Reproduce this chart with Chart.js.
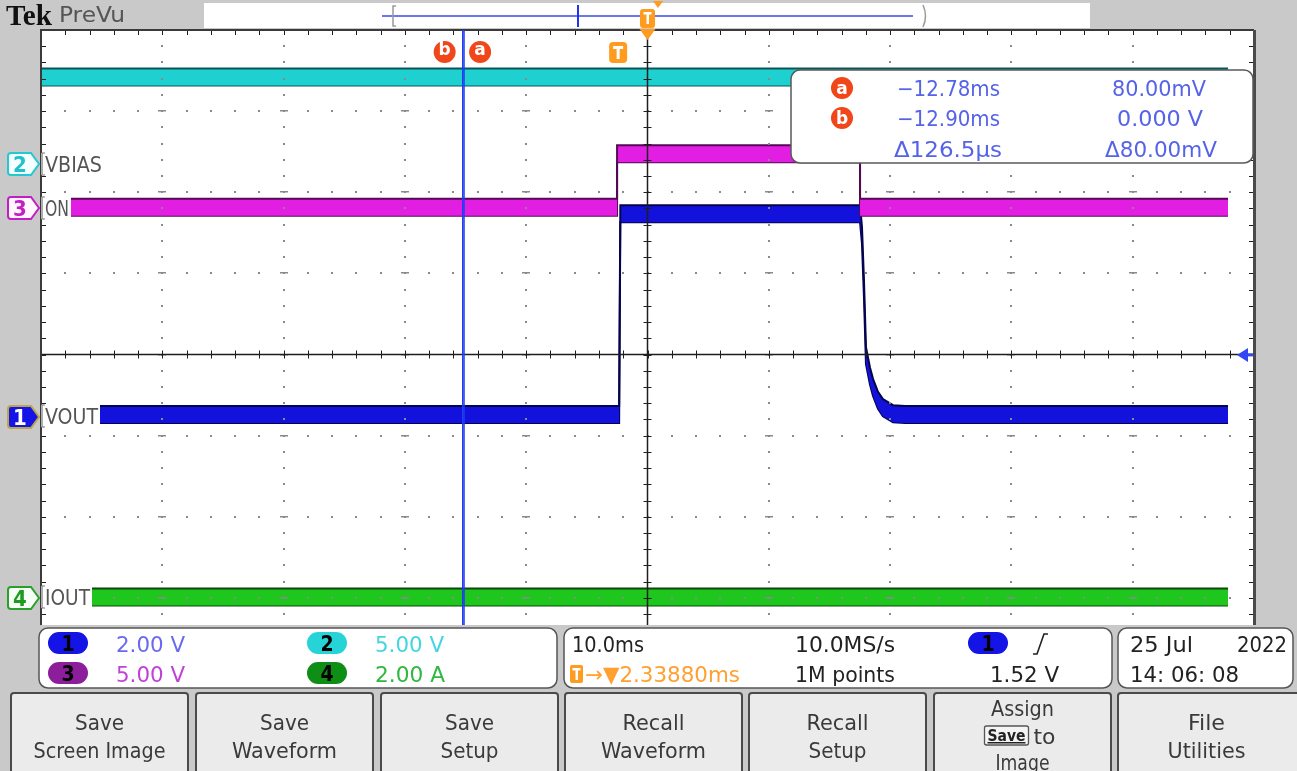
<!DOCTYPE html>
<html>
<head>
<meta charset="utf-8">
<title>Tek PreVu - VOUT / ON / VBIAS / IOUT</title>
<script src="https://cdn.jsdelivr.net/npm/chart.js@4.4.1/dist/chart.umd.min.js"></script>
<style>
  html, body { margin: 0; padding: 0; background: #c9c9c9; }
  #screen { position: relative; width: 1297px; height: 771px; overflow: hidden; background: #c9c9c9; }
  #scope { position: absolute; left: 0; top: 0; }
  #overlay { position: absolute; left: 0; top: 0; pointer-events: none;
    font-family: 'DejaVu Sans Condensed', 'Liberation Sans Narrow', 'DejaVu Sans', sans-serif; }
</style>
</head>
<body>
<div id="screen">
  <canvas id="scope" width="1297" height="771"></canvas>
  <svg id="overlay" width="1297" height="771" xmlns="http://www.w3.org/2000/svg"></svg>
</div>
<script>
// ---- acquisition settings ----
const timePerDivMs = 10;
const triggerDelayMs = 2.3388;        // centre of screen is this far after the trigger
const recordEndMs = 50.2;             // record stops a bit before the right edge

// ---- waveforms, time in ms relative to trigger ----
const ch1Time  = [-47.66, 0.0, 0.1, 19.86, 20.02, 20.19, 20.35, 20.68, 20.93, 21.34, 21.75, 22.58, 23.57, recordEndMs];
const ch1Volts = [0.05, 0.05, 5.0, 5.0, 4.47, 3.1, 1.5, 1.0, 0.72, 0.4, 0.22, 0.07, 0.05, 0.05];

const ch2Time  = [-47.66, recordEndMs];
const ch2Volts = [5.3, 5.3];

const ch3Time  = [-47.66, -0.17, -0.17, 19.86, 19.86, recordEndMs];
const ch3Volts = [0, 0, 3.3, 3.3, 0, 0];

const ch4Time  = [-47.66, recordEndMs];
const ch4Amps  = [0, 0];

// vertical settings: units per division and ground marker offset (divisions from centre)
const ch1PerDiv = 2.0, ch1Offset = -0.765;
const ch2PerDiv = 5.0, ch2Offset = 2.36;
const ch3PerDiv = 5.0, ch3Offset = 1.815;
const ch4PerDiv = 2.0, ch4Offset = -2.99;

// cursors and trigger level
const cursorA = -12.78, cursorB = -12.90;
const triggerLevel = 1.52;

const bandHalfDiv = 0.105;   // half thickness of the noisy trace band

function band(name, times, values, axis, perDiv, fillColor, edgeColor) {
  const h = bandHalfDiv * perDiv;
  return [
    { label: name, yAxisID: axis, data: times.map((t, i) => ({ x: t, y: values[i] + h })),
      borderColor: edgeColor, borderWidth: 2, backgroundColor: fillColor, fill: '+1', pointRadius: 0 },
    { label: name + ' lo', yAxisID: axis, data: times.map((t, i) => ({ x: t, y: values[i] - h })),
      borderColor: edgeColor, borderWidth: 2, fill: false, pointRadius: 0 }
  ];
}

function vAxis(perDiv, offset) {
  return { type: 'linear', display: false, min: (-4 - offset) * perDiv, max: (4 - offset) * perDiv };
}

const scopeGrid = {
  id: 'scopeGrid',
  beforeDraw(chart) {
    const { ctx, chartArea: a } = chart;
    ctx.save();
    ctx.fillStyle = '#c9c9c9';
    ctx.fillRect(0, 0, chart.width, chart.height);
    ctx.fillStyle = '#ffffff';
    ctx.fillRect(a.left, a.top, a.right - a.left, a.bottom - a.top);
    ctx.restore();
  },
  afterDatasetsDraw(chart) {
    const { ctx, chartArea: a, scales } = chart;
    const dx = (a.right - a.left) / 10, dy = (a.bottom - a.top) / 8;
    const cx = a.left + 5 * dx, cy = a.top + 4 * dy;
    ctx.save();
    // dotted graticule
    ctx.fillStyle = '#8a8a8a';
    for (let i = 1; i < 10; i++) {
      if (i === 5) continue;
      const x = Math.round(a.left + i * dx);
      for (let k = 1; k < 40; k++) {
        const y = Math.round(a.top + k * dy / 5);
        ctx.fillRect(x - 1, y - 1, 2, 2);
        if (k % 5 === 0) ctx.fillRect(x - 4, y - 1, 8, 1.5);
      }
    }
    for (let j = 1; j < 8; j++) {
      if (j === 4) continue;
      const y = Math.round(a.top + j * dy);
      for (let k = 1; k < 50; k++) {
        const x = Math.round(a.left + k * dx / 5);
        ctx.fillRect(x - 1, y - 1, 2, 2);
      }
    }
    // centre cross with ticks
    ctx.strokeStyle = '#1e1e1e';
    ctx.lineWidth = 1.5;
    ctx.beginPath();
    ctx.moveTo(a.left, cy); ctx.lineTo(a.right, cy);
    ctx.moveTo(cx, a.top); ctx.lineTo(cx, a.bottom);
    ctx.stroke();
    ctx.lineWidth = 1;
    ctx.beginPath();
    for (let k = 1; k < 50; k++) {
      const x = Math.round(a.left + k * dx / 5) + 0.5;
      ctx.moveTo(x, cy - 4); ctx.lineTo(x, cy + 4);
      ctx.moveTo(x, a.top); ctx.lineTo(x, a.top + 5);
    }
    for (let k = 1; k < 40; k++) {
      const y = Math.round(a.top + k * dy / 5) + 0.5;
      ctx.moveTo(cx - 4, y); ctx.lineTo(cx + 4, y);
      ctx.moveTo(a.left, y); ctx.lineTo(a.left + 5, y);
      ctx.moveTo(a.right - 5, y); ctx.lineTo(a.right, y);
    }
    ctx.stroke();
    // frame
    ctx.strokeStyle = '#3a3a3a';
    ctx.lineWidth = 2;
    ctx.beginPath();
    ctx.moveTo(a.left, a.bottom); ctx.lineTo(a.left, a.top); ctx.lineTo(a.right, a.top);
    ctx.stroke();
    ctx.strokeStyle = '#4a4a4a';
    ctx.lineWidth = 3;
    ctx.beginPath();
    ctx.moveTo(a.right + 0.5, a.top); ctx.lineTo(a.right + 0.5, a.bottom);
    ctx.stroke();

    // cursors
    const x = scales.x;
    ctx.strokeStyle = '#1f3cf0';
    ctx.lineWidth = 1.3;
    ctx.beginPath();
    [cursorA, cursorB].forEach(t => {
      const px = x.getPixelForValue(t);
      ctx.moveTo(px, a.top); ctx.lineTo(px, a.bottom);
    });
    ctx.stroke();
    const cxA = x.getPixelForValue(cursorA), cxB = x.getPixelForValue(cursorB);
    ctx.font = 'bold 17px "DejaVu Sans", sans-serif';
    ctx.textAlign = 'center';
    ctx.textBaseline = 'middle';
    [['b', cxB - 18], ['a', cxA + 16]].forEach(([s, px]) => {
      ctx.fillStyle = '#f0461a';
      ctx.beginPath(); ctx.arc(px, 52, 11, 0, Math.PI * 2); ctx.fill();
      ctx.fillStyle = '#ffffff';
      ctx.fillText(s, px, 51);
    });

    // trigger position "T" inside the graticule
    const tx = x.getPixelForValue(0) - 1;
    ctx.fillStyle = '#ff9b1e';
    ctx.beginPath();
    ctx.roundRect(tx - 9, 42, 18, 21, 4);
    ctx.fill();
    ctx.fillStyle = '#ffffff';
    ctx.fillRect(tx - 5, 46, 10, 3);
    ctx.fillRect(tx - 1.5, 46, 3, 13);

    // horizontal position marker on top edge
    ctx.fillStyle = '#ff9b1e';
    ctx.beginPath();
    ctx.moveTo(cx - 8, a.top - 1); ctx.lineTo(cx + 8, a.top - 1); ctx.lineTo(cx, a.top + 10);
    ctx.closePath(); ctx.fill();

    // trigger level arrow on the right edge
    const ty = scales.y1.getPixelForValue(triggerLevel);
    ctx.fillStyle = '#3347f0';
    ctx.beginPath();
    ctx.moveTo(a.right - 17, ty); ctx.lineTo(a.right - 6, ty - 7); ctx.lineTo(a.right - 6, ty + 7);
    ctx.closePath(); ctx.fill();
    ctx.fillRect(a.right - 7, ty - 1.5, 6, 3);
    ctx.restore();
  }
};

const datasets = [].concat(
  band('VBIAS', ch2Time, ch2Volts, 'y2', ch2PerDiv, '#1fd0d0', '#0a5656'),
  band('ON', ch3Time, ch3Volts, 'y3', ch3PerDiv, '#e21ee2', '#550855'),
  band('VOUT', ch1Time, ch1Volts, 'y1', ch1PerDiv, '#1212dc', '#04044e'),
  band('IOUT', ch4Time, ch4Amps, 'y4', ch4PerDiv, '#1ec61e', '#0a4a0a')
);

new Chart(document.getElementById('scope'), {
  type: 'line',
  data: { datasets: datasets },
  options: {
    responsive: false,
    animation: false,
    layout: { padding: { left: 41, top: 30, right: 43, bottom: 92 } },
    plugins: { legend: { display: false }, tooltip: { enabled: false } },
    elements: { line: { tension: 0 }, point: { radius: 0 } },
    scales: {
      x: { type: 'linear', display: false,
           min: triggerDelayMs - 5 * timePerDivMs, max: triggerDelayMs + 5 * timePerDivMs },
      y1: vAxis(ch1PerDiv, ch1Offset),
      y2: vAxis(ch2PerDiv, ch2Offset),
      y3: vAxis(ch3PerDiv, ch3Offset),
      y4: vAxis(ch4PerDiv, ch4Offset)
    }
  },
  plugins: [scopeGrid]
});

// ---- screen furniture (labels, readouts, soft keys) ----
const NS = 'http://www.w3.org/2000/svg';
const svg = document.getElementById('overlay');
function el(tag, attrs, parent) {
  const e = document.createElementNS(NS, tag);
  for (const k in attrs) e.setAttribute(k, attrs[k]);
  (parent || svg).appendChild(e);
  return e;
}
function txt(s, x, y, size, fill, width, anchor, extra) {
  const t = el('text', Object.assign({ x: x, y: y, 'font-size': size, fill: fill, 'text-anchor': anchor || 'start' }, extra || {}));
  if (width) { t.setAttribute('textLength', width); t.setAttribute('lengthAdjust', 'spacingAndGlyphs'); }
  t.textContent = s;
  return t;
}

// header
txt('Tek', 6, 25, 29, '#111', 46, 'start', { 'font-weight': 'bold', 'font-family': "'Liberation Serif', 'DejaVu Serif', serif" });
txt('PreVu', 59, 22, 21, '#555', 66);
el('rect', { x: 204, y: 3, width: 886, height: 25, fill: '#ffffff' });
el('line', { x1: 382, y1: 16, x2: 913, y2: 16, stroke: '#6a78f0', 'stroke-width': 2 });
el('path', { d: 'M396 6 L393 6 L393 26 L396 26', stroke: '#9a9a9a', 'stroke-width': 1.5, fill: 'none' });
el('path', { d: 'M923 5 Q928 16 923 27', stroke: '#9a9a9a', 'stroke-width': 1.5, fill: 'none' });
el('line', { x1: 578, y1: 5, x2: 578, y2: 27, stroke: '#2233ee', 'stroke-width': 2 });
el('rect', { x: 640, y: 9, width: 15, height: 19, rx: 3, fill: '#ff9b1e' });
el('rect', { x: 643.5, y: 12, width: 8, height: 2.5, fill: '#fff' });
el('rect', { x: 646.5, y: 12, width: 2.5, height: 12, fill: '#fff' });
el('path', { d: 'M653 1 L663 1 L658 8 Z', fill: '#ff9b1e' });

// channel markers on the left strip
function marker(y, num, stroke, fill, numColor) {
  const x0 = 8, x1 = 31, tip = 39, h = 11;
  el('path', { d: `M${x0 + 3} ${y - h} L${x1} ${y - h} L${tip} ${y} L${x1} ${y + h} L${x0 + 3} ${y + h} Q${x0} ${y + h} ${x0} ${y + h - 3} L${x0} ${y - h + 3} Q${x0} ${y - h} ${x0 + 3} ${y - h} Z`,
    fill: fill, stroke: stroke, 'stroke-width': 2 });
  txt(num, 20, y + 8, 22, numColor, null, 'middle', { 'font-weight': 'bold' });
}
marker(164, '2', '#22c8d2', '#f4ffff', '#22c0cc');
marker(208, '3', '#c21ec8', '#fff6ff', '#c21ec8');
marker(417, '1', '#b9a64a', '#1414e6', '#ffffff');
marker(598, '4', '#2aa02a', '#f6fff6', '#1f9a1f');

// trace labels (white behind them, as on the scope)
function traceLabel(s, y, x0, x1) {
  el('rect', { x: 41, y: y - 11, width: x1 - 41, height: 22, fill: '#ffffff' });
  el('path', { d: `M45 ${y - 11} L42 ${y - 11} L42 ${y + 11} L45 ${y + 11}`, stroke: '#777', 'stroke-width': 1.2, fill: 'none' });
  txt(s, x0, y + 8, 22, '#555', x1 - x0 - 2);
}
traceLabel('VBIAS', 164, 45, 104);
traceLabel('ON', 208, 45, 71);
traceLabel('VOUT', 416, 45, 100);
traceLabel('IOUT', 597, 45, 92);

// cursor readout box
el('rect', { x: 791, y: 70, width: 462, height: 93, rx: 9, fill: '#ffffff', stroke: '#5a5a5a', 'stroke-width': 1.5 });
const curBlue = '#5563e8';
function badge(s, x, y) {
  el('circle', { cx: x, cy: y, r: 11, fill: '#f0461a' });
  txt(s, x, y + 6, 17, '#fff', null, 'middle', { 'font-weight': 'bold', 'font-family': "'DejaVu Sans', sans-serif" });
}
badge('a', 842, 88);
badge('b', 842, 118);
txt('\u221212.78ms', 897, 96, 21, curBlue, 103);
txt('80.00mV', 1206, 96, 21, curBlue, 94, 'end');
txt('\u221212.90ms', 897, 126, 21, curBlue, 103);
txt('0.000 V', 1203, 126, 21, curBlue, 86, 'end');
txt('\u0394126.5\u00b5s', 894, 157, 21, curBlue, 108);
txt('\u039480.00mV', 1217, 157, 21, curBlue, 112, 'end');

// bottom panel
el('rect', { x: 0, y: 625, width: 1297, height: 146, fill: '#c9c9c9' });
el('rect', { x: 39, y: 628, width: 518, height: 60, rx: 9, fill: '#ffffff', stroke: '#555', 'stroke-width': 1.5 });
el('rect', { x: 564, y: 628, width: 548, height: 60, rx: 9, fill: '#ffffff', stroke: '#555', 'stroke-width': 1.5 });
el('rect', { x: 1118, y: 628, width: 175, height: 60, rx: 9, fill: '#ffffff', stroke: '#555', 'stroke-width': 1.5 });

function chip(cx, cy, fill, s, color) {
  el('rect', { x: cx - 20, y: cy - 11, width: 40, height: 22, rx: 11, fill: fill });
  txt(s, cx, cy + 8, 21, color, null, 'middle', { 'font-weight': 'bold' });
}
chip(68, 643, '#1414e6', '1', '#000');
txt('2.00 V', 116, 652, 22, '#6a6af0', 69);
chip(327, 643, '#26d4d8', '2', '#000');
txt('5.00 V', 375, 652, 22, '#42d6e0', 69);
chip(68, 673, '#8c1e9c', '3', '#000');
txt('5.00 V', 116, 682, 22, '#c040d8', 69);
chip(327, 673, '#0e8e14', '4', '#000');
txt('2.00 A', 375, 682, 22, '#30b840', 70);

txt('10.0ms', 572, 652, 22, '#222', 72);
txt('10.0MS/s', 795, 652, 22, '#222', 100);
chip(988, 643, '#1414e6', '1', '#000');
el('path', { d: 'M1033 654 L1037 654 L1044 634 L1048 634', stroke: '#222', 'stroke-width': 1.6, fill: 'none' });
el('rect', { x: 570, y: 665, width: 13, height: 18, rx: 2, fill: '#ff9b1e' });
el('rect', { x: 572.5, y: 668, width: 8, height: 2.5, fill: '#fff' });
el('rect', { x: 575.5, y: 668, width: 2.5, height: 12, fill: '#fff' });
txt('\u2192\u25bc2.33880ms', 585, 682, 22, '#ffa030', 155);
txt('1M points', 795, 682, 22, '#222', 100);
txt('1.52 V', 990, 682, 22, '#222', 69);

txt('25 Jul', 1130, 652, 22, '#222', 63);
txt('2022', 1287, 652, 22, '#222', 50, 'end');
txt('14: 06: 08', 1130, 682, 22, '#222', 109);

// soft keys
const keyLeft = [11, 196, 381, 565, 749, 934, 1118];
const keyWidth = 177;
const keyText = [['Save', 'Screen Image'], ['Save', 'Waveform'], ['Save', 'Setup'], ['Recall', 'Waveform'],
                 ['Recall', 'Setup'], ['Assign', '', 'Image'], ['File', 'Utilities']];
const keyTextWidth = [[49, 132], [49, 105], [49, 58], [62, 105], [62, 58], [63, 0, 54], [37, 78]];
keyLeft.forEach((x, i) => {
  el('rect', { x: x, y: 693, width: keyWidth + (i === 6 ? 5 : 0), height: 84, rx: 3, fill: '#ebebeb', stroke: '#4a4a4a', 'stroke-width': 2 });
  const mid = x + keyWidth / 2;
  const lines = keyText[i];
  if (lines.length === 2) {
    txt(lines[0], mid, 730, 22, '#3a3a3a', keyTextWidth[i][0], 'middle');
    txt(lines[1], mid, 758, 22, '#3a3a3a', keyTextWidth[i][1], 'middle');
  } else {
    txt(lines[0], mid, 716, 22, '#3a3a3a', keyTextWidth[i][0], 'middle');
    el('rect', { x: mid - 38, y: 726, width: 44, height: 19, rx: 2, fill: '#f4f4f4', stroke: '#555', 'stroke-width': 1.3 });
    txt('Save', mid - 16, 741, 15, '#222', 38, 'middle', { 'font-weight': 'bold', 'text-decoration': 'underline' });
    txt('to', mid + 22, 744, 22, '#3a3a3a', 22, 'middle');
    txt(lines[2], mid, 770, 22, '#3a3a3a', keyTextWidth[i][2], 'middle');
  }
});
</script>
</body>
</html>
